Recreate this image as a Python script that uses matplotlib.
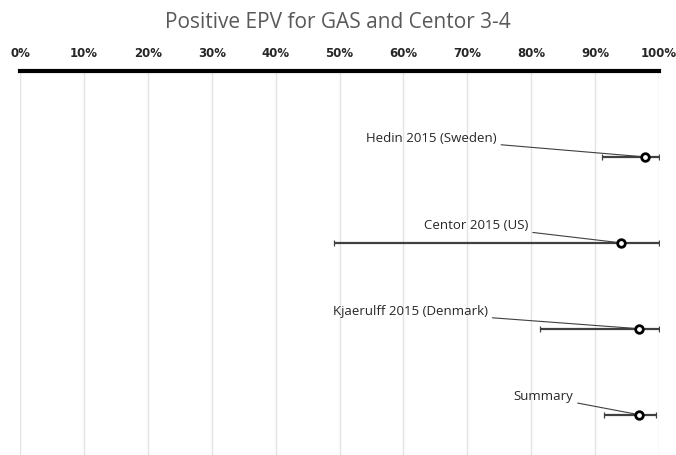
import matplotlib.pyplot as plt
import numpy as np

# data (percent)
studies = ["Hedin 2015 (Sweden)", "Centor 2015 (US)", "Kjaerulff 2015 (Denmark)", "Summary"]
estimate = [97.8, 94.0, 96.9, 96.8]
lower = [91.1, 49.1, 81.4, 91.4]
upper = [100.0, 100.0, 100.0, 99.5]
ticks = list(range(0, 101, 10))

# label offsets (pixels) relative to each point
label_dx = [-148, -92, -151, -65]
label_dy = [18, 17, 17, 18]

fig = plt.figure(figsize=(6.76, 4.55), dpi=100)
ax = fig.add_axes([20 / 676, 0, 639 / 676, 1 - 71 / 455])

ypos = np.arange(1, len(studies) + 1)
est = np.array(estimate)
err = np.vstack([est - np.array(lower), np.array(upper) - est])

ax.errorbar(est, ypos, xerr=err, fmt='none', ecolor='#404040', elinewidth=1.6,
            capsize=2, capthick=0.9, zorder=3)
ax.scatter(est, ypos, s=30, facecolor='white', edgecolor='black', linewidth=2, zorder=4)

for i, name in enumerate(studies):
    ax.annotate(name, xy=(est[i], ypos[i]), xytext=(label_dx[i], label_dy[i]),
                textcoords='offset pixels', ha='right', va='center', fontsize=9.5,
                color='#262626', family='Open Sans',
                arrowprops=dict(arrowstyle='-', color='#404040', lw=0.8,
                                shrinkA=1, shrinkB=0))

ax.set_xlim(0, 100)
ax.set_ylim(4.47, 0)
ax.set_xticks(ticks)
ax.set_xticklabels([f"{t}%" for t in ticks], fontweight='bold', fontsize=8.5, color='#262626')
ax.xaxis.tick_top()
ax.tick_params(axis='x', length=0, pad=8)
ax.set_yticks([])
ax.grid(axis='x', color='#e3e3e3', linewidth=1)
ax.set_axisbelow(True)
for side in ['left', 'right', 'bottom']:
    ax.spines[side].set_visible(False)
ax.spines['top'].set_linewidth(3)
ax.spines['top'].set_color('black')

fig.text(0.5, 1 - 22 / 455, "Positive EPV for GAS and Centor 3-4", ha='center', va='center',
         fontsize=15, color='#595959', family='Open Sans')

fig.savefig("out.png", dpi=100)
